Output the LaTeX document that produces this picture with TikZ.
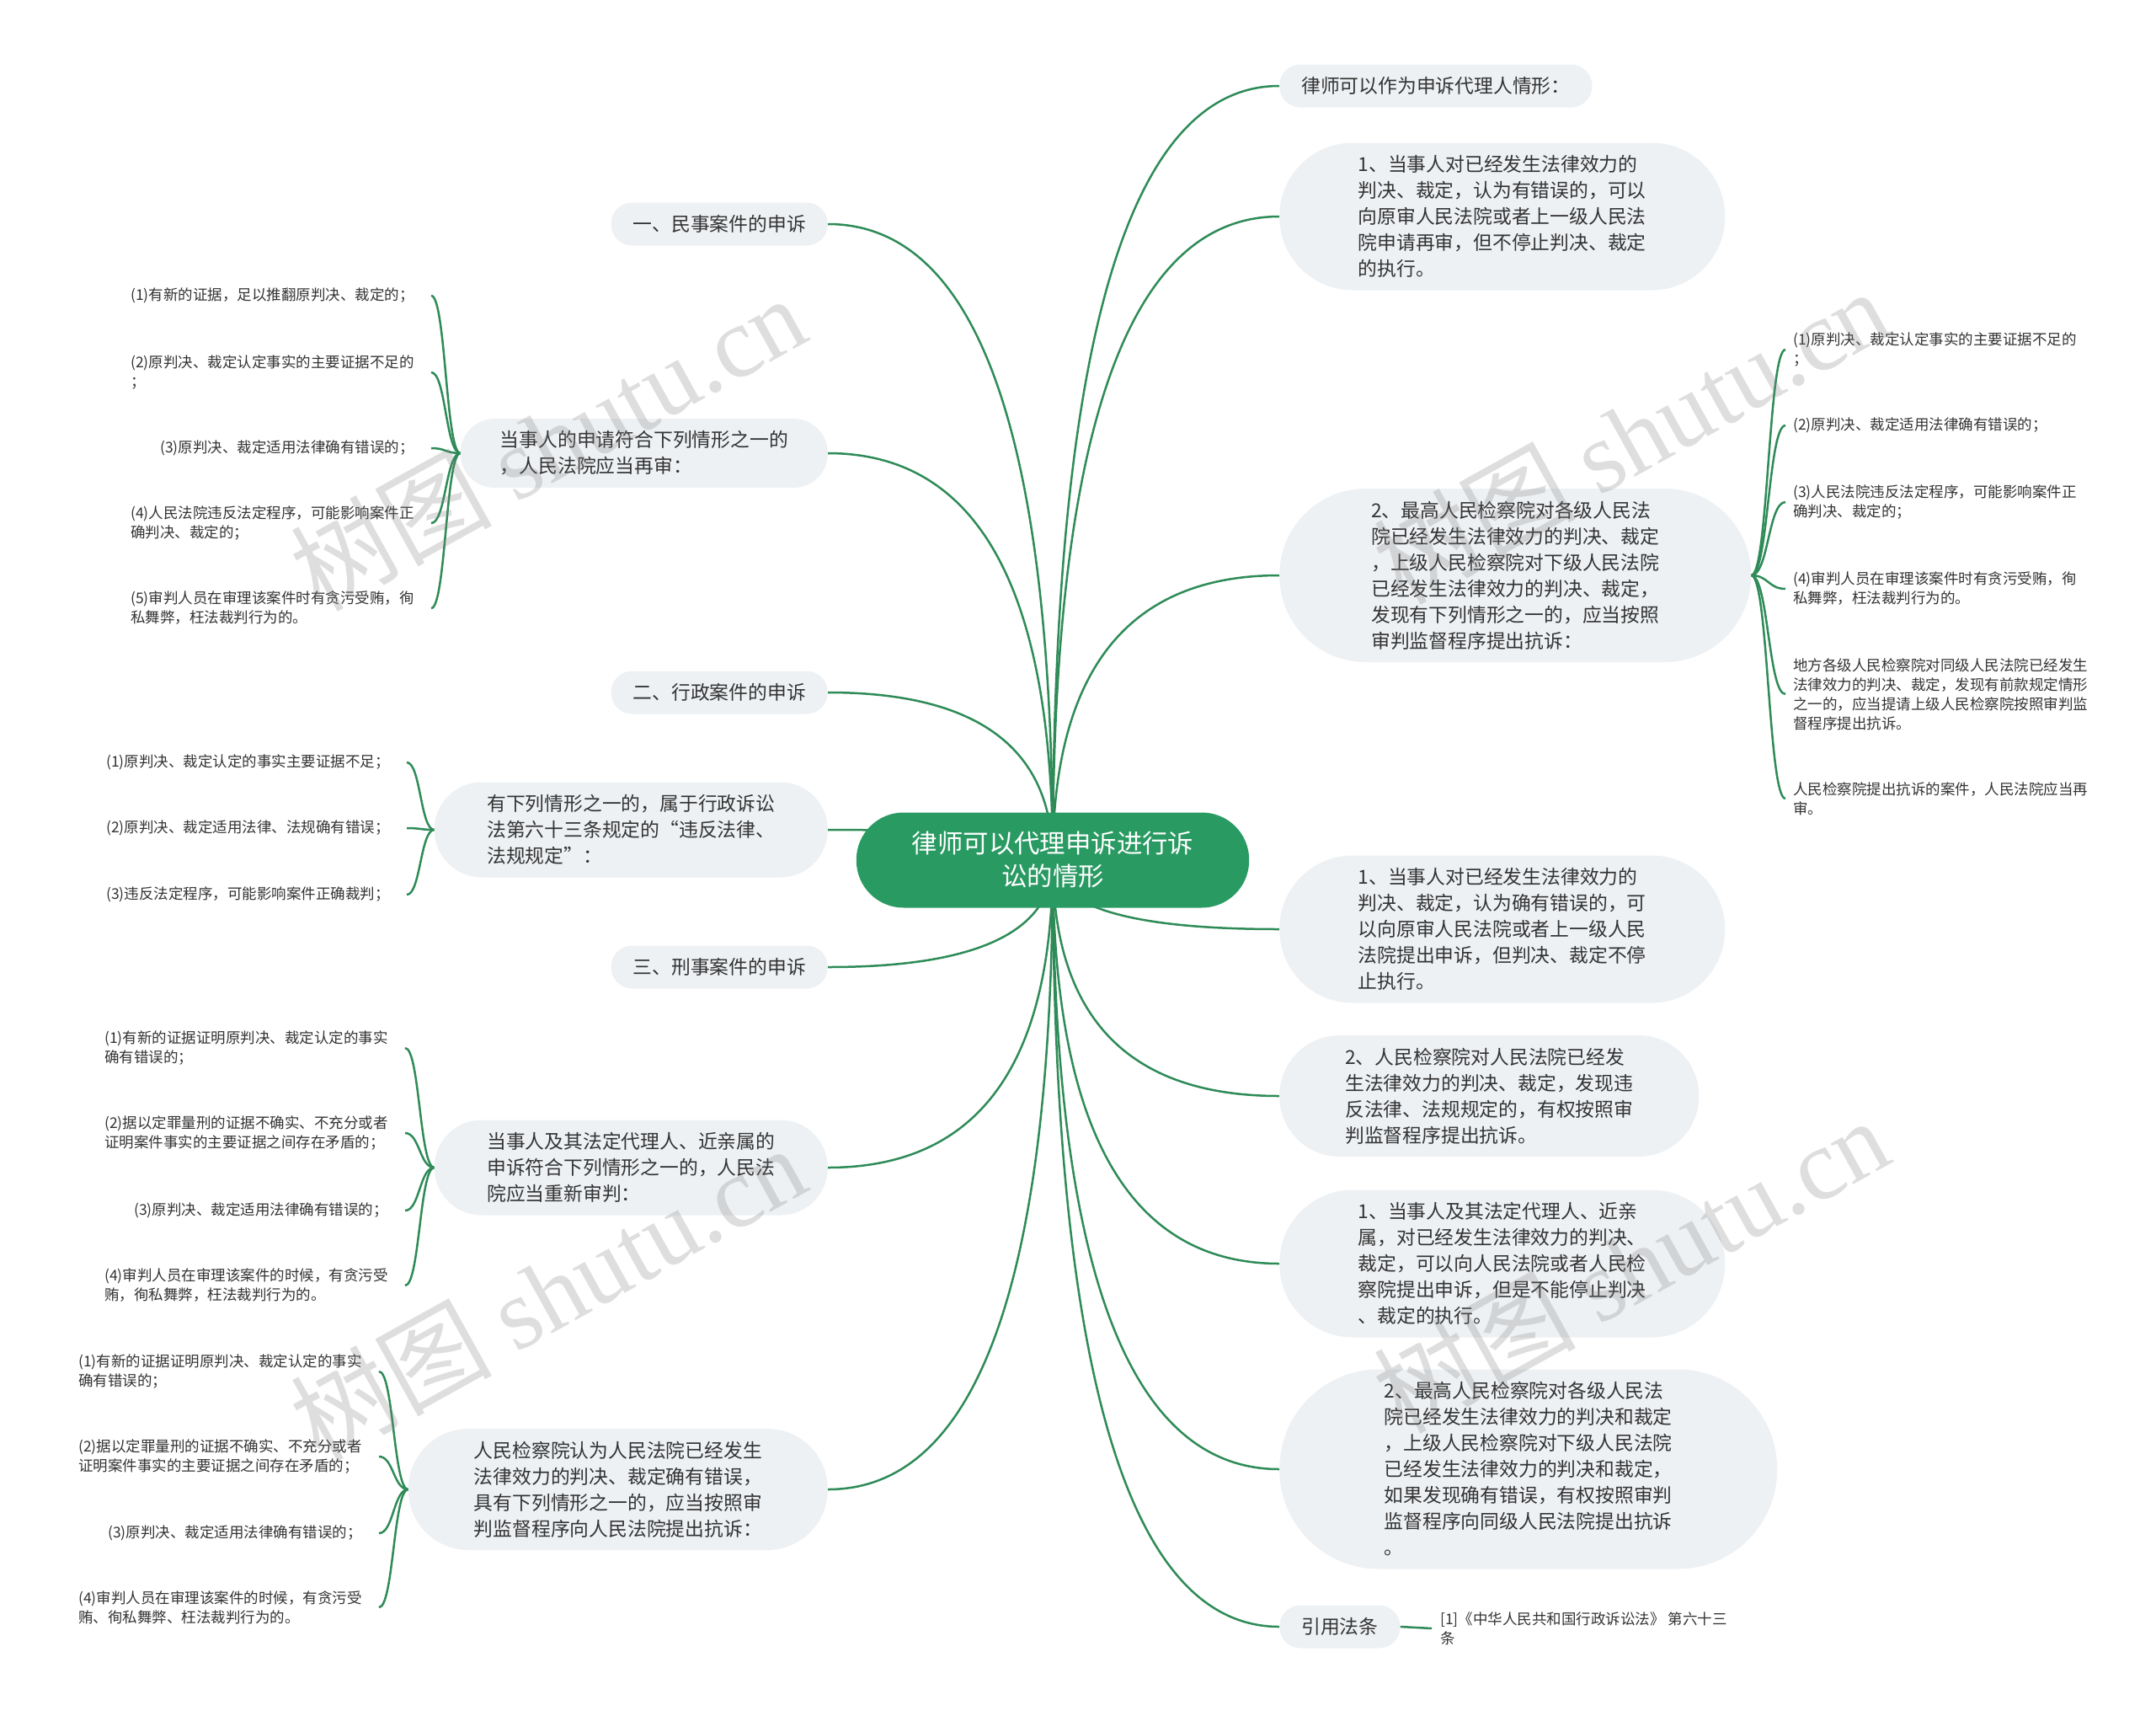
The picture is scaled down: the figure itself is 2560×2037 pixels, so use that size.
\documentclass[tikz,border=0pt]{standalone}
\usepackage{fontspec}
\setmainfont{Noto Sans CJK SC}
\newfontfamily\wmserif{Liberation Serif}
\usetikzlibrary{calc,backgrounds}
\definecolor{lineg}{HTML}{2E8B57}
\definecolor{rootg}{HTML}{2A9A63}
\definecolor{boxg}{HTML}{EEF1F4}
\definecolor{txt}{HTML}{333333}
\newcommand{\redge}[1]{\draw[conn] (C.center) .. controls ($(C.center)!0.667!(C.center |- #1)$) and ($(#1)!0.667!(C.center |- #1)$) .. (#1);}
\newcommand{\scurve}[2]{\draw[conn] let \p1=(#1), \p2=(#2) in (\p1) .. controls ({(\x1+\x2)/2},\y1) and ({(\x1+\x2)/2},\y2) .. (\p2);}
\begin{document}
\begin{tikzpicture}[x=1pt,y=-1pt,
  conn/.style={draw=lineg,line width=2.5pt},
  bx/.style={rectangle, fill=boxg, align=left, text=txt, font=\fontsize{22.8}{31}\selectfont, inner ysep=0pt,
     minimum height={31*#1+20}, inner xsep={(31*#1+20)/2+6}, rounded corners={(31*#1+20)/2-0.5}},
  sbx/.style={bx=1, inner xsep=26pt},
  leaf/.style={inner xsep=20pt, inner ysep=2pt, align=left, text=txt, font=\fontsize{17.5}{23}\selectfont},
  rootbox/.style={rectangle, rounded corners=56pt, minimum height=113pt, inner ysep=0pt, inner xsep=66pt, fill=rootg, text=white, align=center, font=\fontsize{30.4}{39}\selectfont},
  wm/.style={text=gray, text opacity=0.26, rotate=29, font=\fontsize{120}{120}\selectfont}
]
\useasboundingbox (0,0) rectangle (2560,2037);

% root
\node[rootbox] (C) at (1250,1021) {律师可以代理申诉进行诉\\讼的情形};

% left level-1
\node[sbx, anchor=east] (L1) at (983,266) {一、民事案件的申诉};
\node[bx=2, anchor=east] (L2) at (983,538) {当事人的申请符合下列情形之一的\\，人民法院应当再审：};
\node[sbx, anchor=east] (L3) at (983,822) {二、行政案件的申诉};
\node[bx=3, anchor=east] (L4) at (983,985) {有下列情形之一的，属于行政诉讼\\法第六十三条规定的“违反法律、\\法规规定”：};
\node[sbx, anchor=east] (L5) at (983,1148) {三、刑事案件的申诉};
\node[bx=3, anchor=east] (L6) at (983,1386) {当事人及其法定代理人、近亲属的\\申诉符合下列情形之一的，人民法\\院应当重新审判：};
\node[bx=4, anchor=east] (L7) at (983,1768) {人民检察院认为人民法院已经发生\\法律效力的判决、裁定确有错误，\\具有下列情形之一的，应当按照审\\判监督程序向人民法院提出抗诉：};

% right level-1
\node[sbx, anchor=west] (R1) at (1519,102) {律师可以作为申诉代理人情形：};
\node[bx=5, anchor=west] (R2) at (1519,257) {1、当事人对已经发生法律效力的\\判决、裁定，认为有错误的，可以\\向原审人民法院或者上一级人民法\\院申请再审，但不停止判决、裁定\\的执行。};
\node[bx=6, anchor=west] (R3) at (1519,683) {2、最高人民检察院对各级人民法\\院已经发生法律效力的判决、裁定\\，上级人民检察院对下级人民法院\\已经发生法律效力的判决、裁定，\\发现有下列情形之一的，应当按照\\审判监督程序提出抗诉：};
\node[bx=5, anchor=west] (R4) at (1519,1103) {1、当事人对已经发生法律效力的\\判决、裁定，认为确有错误的，可\\以向原审人民法院或者上一级人民\\法院提出申诉，但判决、裁定不停\\止执行。};
\node[bx=4, anchor=west] (R5) at (1519,1301) {2、人民检察院对人民法院已经发\\生法律效力的判决、裁定，发现违\\反法律、法规规定的，有权按照审\\判监督程序提出抗诉。};
\node[bx=5, anchor=west] (R6) at (1519,1500) {1、当事人及其法定代理人、近亲\\属，对已经发生法律效力的判决、\\裁定，可以向人民法院或者人民检\\察院提出申诉，但是不能停止判决\\、裁定的执行。};
\node[bx=7, anchor=west] (R7) at (1519,1744) {2、最高人民检察院对各级人民法\\院已经发生法律效力的判决和裁定\\，上级人民检察院对下级人民法院\\已经发生法律效力的判决和裁定，\\如果发现确有错误，有权按照审判\\监督程序向同级人民法院提出抗诉\\。};
\node[sbx, anchor=west] (R8) at (1519,1931) {引用法条};

% leaves group A (L2)
\node[leaf, anchor=east] (A1) at (512,351) {(1)有新的证据，足以推翻原判决、裁定的；};
\node[leaf, anchor=east] (A2) at (512,442) {(2)原判决、裁定认定事实的主要证据不足的\\；};
\node[leaf, anchor=east] (A3) at (512,532) {(3)原判决、裁定适用法律确有错误的；};
\node[leaf, anchor=east] (A4) at (512,621) {(4)人民法院违反法定程序，可能影响案件正\\确判决、裁定的；};
\node[leaf, anchor=east] (A5) at (512,722) {(5)审判人员在审理该案件时有贪污受贿，徇\\私舞弊，枉法裁判行为的。};

% group B (L4)
\node[leaf, anchor=east] (B1) at (483,905) {(1)原判决、裁定认定的事实主要证据不足；};
\node[leaf, anchor=east] (B2) at (483,983) {(2)原判决、裁定适用法律、法规确有错误；};
\node[leaf, anchor=east] (B3) at (483,1062) {(3)违反法定程序，可能影响案件正确裁判；};

% group C (L6)
\node[leaf, anchor=east] (C1) at (481,1244) {(1)有新的证据证明原判决、裁定认定的事实\\确有错误的；};
\node[leaf, anchor=east] (C2) at (481,1345) {(2)据以定罪量刑的证据不确实、不充分或者\\证明案件事实的主要证据之间存在矛盾的；};
\node[leaf, anchor=east] (C3) at (481,1437) {(3)原判决、裁定适用法律确有错误的；};
\node[leaf, anchor=east] (C4) at (481,1526) {(4)审判人员在审理该案件的时候，有贪污受\\贿，徇私舞弊，枉法裁判行为的。};

% group D (L7)
\node[leaf, anchor=east] (D1) at (450,1628) {(1)有新的证据证明原判决、裁定认定的事实\\确有错误的；};
\node[leaf, anchor=east] (D2) at (450,1729) {(2)据以定罪量刑的证据不确实、不充分或者\\证明案件事实的主要证据之间存在矛盾的；};
\node[leaf, anchor=east] (D3) at (450,1820) {(3)原判决、裁定适用法律确有错误的；};
\node[leaf, anchor=east] (D4) at (450,1908) {(4)审判人员在审理该案件的时候，有贪污受\\贿、徇私舞弊、枉法裁判行为的。};

% group E (R3)
\node[leaf, anchor=west, inner xsep=9pt] (E1) at (2120,415) {(1)原判决、裁定认定事实的主要证据不足的\\；};
\node[leaf, anchor=west, inner xsep=9pt] (E2) at (2120,505) {(2)原判决、裁定适用法律确有错误的；};
\node[leaf, anchor=west, inner xsep=9pt] (E3) at (2120,596) {(3)人民法院违反法定程序，可能影响案件正\\确判决、裁定的；};
\node[leaf, anchor=west, inner xsep=9pt] (E4) at (2120,699) {(4)审判人员在审理该案件时有贪污受贿，徇\\私舞弊，枉法裁判行为的。};
\node[leaf, anchor=west, inner xsep=9pt] (E5) at (2120,824) {地方各级人民检察院对同级人民法院已经发生\\法律效力的判决、裁定，发现有前款规定情形\\之一的，应当提请上级人民检察院按照审判监\\督程序提出抗诉。};
\node[leaf, anchor=west, inner xsep=9pt] (E6) at (2120,948) {人民检察院提出抗诉的案件，人民法院应当再\\审。};

% R8 leaf
\node[leaf, anchor=west, inner xsep=10pt] (F1) at (1700,1933) {[1]《中华人民共和国行政诉讼法》 第六十三\\条};

\begin{scope}[on background layer]
\fill[white] (0,0) rectangle (2560,2037);
\redge{L1.east}\redge{L2.east}\redge{L3.east}\redge{L4.east}\redge{L5.east}\redge{L6.east}\redge{L7.east}
\redge{R1.west}\redge{R2.west}\redge{R3.west}\redge{R4.west}\redge{R5.west}\redge{R6.west}\redge{R7.west}\redge{R8.west}
\foreach \nd in {A1,A2,A3,A4,A5} {\scurve{L2.west}{\nd.east}}
\foreach \nd in {B1,B2,B3} {\scurve{L4.west}{\nd.east}}
\foreach \nd in {C1,C2,C3,C4} {\scurve{L6.west}{\nd.east}}
\foreach \nd in {D1,D2,D3,D4} {\scurve{L7.west}{\nd.east}}
\foreach \nd in {E1,E2,E3,E4,E5,E6} {\scurve{R3.east}{\nd.west}}
\draw[conn] (R8.east) -- (F1.west);
\end{scope}

% watermarks
\node[wm] (W1) at (650,525) {树图 {\wmserif shutu.cn}};
\node[wm] (W2) at (650,1534) {树图 {\wmserif shutu.cn}};
\node[wm] (W3) at (1936,517) {树图 {\wmserif shutu.cn}};
\node[wm] (W4) at (1936,1501) {树图 {\wmserif shutu.cn}};
\end{tikzpicture}
\end{document}
